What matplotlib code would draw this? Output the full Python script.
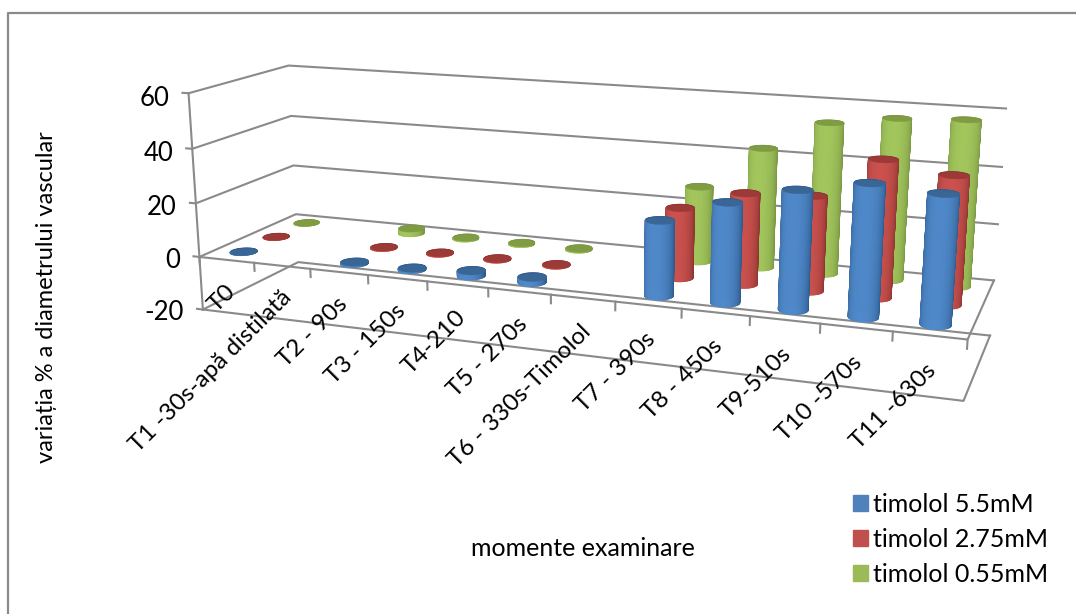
import numpy as np
import matplotlib
matplotlib.use("Agg")
import matplotlib.pyplot as plt
from matplotlib.lines import Line2D
from matplotlib.patches import Patch
from mpl_toolkits.mplot3d import proj3d
from mpl_toolkits.mplot3d.art3d import Poly3DCollection

plt.rcParams["font.family"] = ["Lato", "Noto Sans", "DejaVu Sans"]

categories = ["T0", "T1 -30s-apă distilată", "T2 - 90s", "T3 - 150s", "T4-210", "T5 - 270s",
              "T6 - 330s-Timolol", "T7 - 390s", "T8 - 450s", "T9-510s", "T10 -570s", "T11 -630s"]
series_names = ["timolol 5.5mM", "timolol 2.75mM", "timolol 0.55mM"]
timolol_55 = [0.2, np.nan, 0.7, 0.7, 2, 2, np.nan, 26, 34, 40, 44, 42.5]
timolol_275 = [0.2, np.nan, 0.4, 0.4, 0.4, 0.4, np.nan, 25, 32, 33, 47, 43.5]
timolol_055 = [0.2, np.nan, 2, 0.5, 0.5, 0.5, np.nan, 27.5, 43, 53.5, 56.5, 57.5]
y_ticks = [-20, 0, 20, 40, 60]

series_values = [timolol_55, timolol_275, timolol_055]
side_colors = [("#2E5C8F", "#5089CA"), ("#8E3532", "#CB524E"), ("#7A9743", "#A3C65D")]
top_colors = ["#3A6696", "#9C3A37", "#7F9C42"]
legend_colors = ["#4F81BD", "#C0504D", "#9BBB59"]
grid_color = "#8A8A8A"

W, H = 1076, 614
fig = plt.figure(figsize=(W / 100, H / 100), dpi=100)
# mplot3d keeps its axes square, so take a square wider than the figure
ax = fig.add_axes([0, (1 - W / H) / 2, 1, W / H], projection="3d", computed_zorder=False)
ax.set_axis_off()
ax.apply_aspect()

n_cat = len(categories)
n_ser = len(series_names)
ax.set_xlim(0, n_cat)
ax.set_ylim(0, n_ser)
ax.set_zlim(-20, 60)

# camera: 3x4 projection solved from where the plot box corners sit in the picture
box_points = [
    (0, 0, 60, 188, 93), (0, 0, 0, 200, 257), (0, 0, -20, 203, 310),
    (0, 3, 60, 289, 66), (0, 3, 40, 291, 116), (0, 3, 20, 293, 165), (0, 3, 0, 296, 214), (0, 3, -20, 298, 262),
    (12, 3, 60, 1006, 109), (12, 3, 40, 1002, 167), (12, 3, 20, 998, 224), (12, 3, 0, 994, 280), (12, 3, -20, 990, 336),
    (12, 0, 0, 968, 338), (12, 0, -20, 963, 402),
]
inv = ax.transData.inverted()
rows = []
for px3, py3, pz3, px, py in box_points:
    u, v = inv.transform((px, H - py)) * 10
    p = [px3, py3, pz3, 1]
    rows.append(p + [0, 0, 0, 0] + [-u * c for c in p])
    rows.append([0, 0, 0, 0] + p + [-v * c for c in p])
P = np.linalg.svd(np.array(rows))[2][-1].reshape(3, 4)
if P[2, 3] < 0:
    P = -P
# third row is only the depth: further back is bigger, and it has to stay negative
depth = np.array([0, 1, 0, -(n_ser + 1)]) * abs(P[2, 3]) / 100
M = np.array([P[0] / 10, P[1] / 10, depth, P[2]])
ax.get_proj = lambda: M
ax.M = M


def line(xs, ys, zs):
    ax.plot(xs, ys, zs, color=grid_color, lw=1.5, zorder=1)


def label3d(x, y, z, s, **kw):
    u, v, _ = proj3d.proj_transform(x, y, z, M)
    ax.text2D(u, v, s, transform=ax.transData, **kw)


# walls and floor
for z in y_ticks:
    line([0, 0, n_cat], [0, n_ser, n_ser], [z, z, z])
    line([-0.11, 0], [0, 0], [z, z])
    label3d(-0.36, 0, z - 2.2, str(z), ha="right", va="center", fontsize=18.5)
for z in [-20, 0]:
    line([0, n_cat, n_cat], [0, 0, n_ser], [z, z, z])
line([0, 0], [0, 0], [-20, 60])
for i in range(n_cat + 1):
    line([i, i], [0, 0], [0, -3])

for i, label in enumerate(categories):
    label3d(i + 0.45, 0, -8, label, ha="right", va="top", rotation=45,
            rotation_mode="anchor", fontsize=17.5)


def cylinder(x0, y0, val, colors, top, order, rx=0.21, ry=0.22, n=96):
    th = np.linspace(0, 2 * np.pi, n + 1)
    cx = x0 + rx * np.cos(th)
    cy = y0 + ry * np.sin(th)
    low, high = min(0, val), max(0, val)
    dark = np.array(matplotlib.colors.to_rgb(colors[0]))
    light = np.array(matplotlib.colors.to_rgb(colors[1]))
    verts, cols = [], []
    for k in range(n):
        verts.append([(cx[k], cy[k], low), (cx[k + 1], cy[k + 1], low),
                      (cx[k + 1], cy[k + 1], high), (cx[k], cy[k], high)])
        t = max(0.0, -np.sin((th[k] + th[k + 1]) / 2)) ** 0.8
        cols.append(dark + (light - dark) * t)
    ax.add_collection3d(Poly3DCollection(verts, facecolors=cols, edgecolors=cols, linewidths=0.6,
                                         zorder=order), autolim=False)
    disc = [list(zip(cx, cy, [high] * len(cx)))]
    ax.add_collection3d(Poly3DCollection(disc, facecolors=top, edgecolors=top, linewidths=0.3,
                                         zorder=order + 0.5), autolim=False)


# back series first so the front ones cover them
for s in range(n_ser - 1, -1, -1):
    for i, val in enumerate(series_values[s]):
        if not np.isnan(val):
            cylinder(i + 0.5, s + 0.5, val, side_colors[s], top_colors[s], 2 + (n_ser - s) * 2)

# outer chart frame
fig.add_artist(Line2D([8 / W, 8 / W, 1], [0, 1 - 13 / H, 1 - 13 / H], color="#8A8A8A", lw=1.6))

fig.text(47 / W, 1 - 297 / H, "variația % a diametrului vascular", rotation=90,
         ha="center", va="center", fontsize=17)
fig.text(583 / W, 1 - 548 / H, "momente examinare", ha="center", va="center", fontsize=18)

handles = [Patch(color=c, label=n) for c, n in zip(legend_colors, series_names)]
fig.legend(handles=handles, loc="upper left", bbox_to_anchor=(848 / W, 1 - 488 / H), frameon=False,
           fontsize=18, handlelength=0.6, handleheight=0.6, handletextpad=0.2,
           labelspacing=0.47, borderpad=0.2, borderaxespad=0)

fig.savefig("out.png", dpi=100)
